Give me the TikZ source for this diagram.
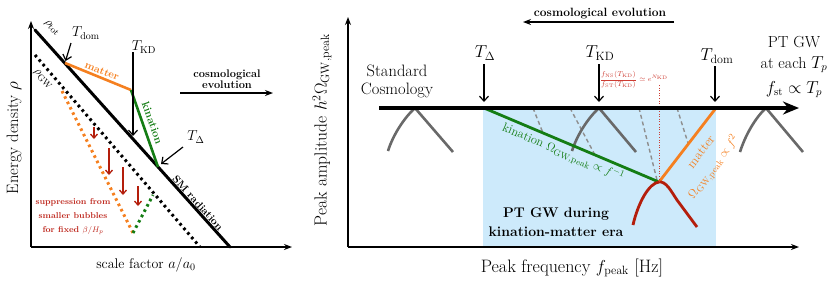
\documentclass[tikz,border=0pt]{standalone}
\usepackage{amsmath}
\usetikzlibrary{arrows.meta}
\definecolor{myorange}{RGB}{245,128,32}
\definecolor{mygreen}{RGB}{20,125,20}
\definecolor{myred}{RGB}{180,30,12}
\definecolor{mygray}{RGB}{105,105,105}
\definecolor{myblue}{RGB}{205,234,251}
\definecolor{textred}{RGB}{205,60,50}
\definecolor{supred}{RGB}{190,40,30}
\newcommand{\fs}[1]{\fontsize{#1}{#1}\selectfont}
\begin{document}
\begin{tikzpicture}[x=1pt,y=-1pt,
  axisline/.style={line width=1.3pt,-{Stealth[length=8pt,width=6pt]}},
  tarrow/.style={line width=1.2pt,-{Straight Barb[length=5pt,width=9pt]}},
  hump/.style={line width=2.6pt,mygray},
  lbl/.style={inner sep=0pt},
  dotline/.style={line width=3pt,dash pattern=on 2.6pt off 3.4pt},
  redarrow/.style={line width=1.3pt,myred,-{Straight Barb[length=4pt,width=7pt]}},
  gdash/.style={line width=1.4pt,mygray!75,dash pattern=on 4pt off 3pt}]
\useasboundingbox (0,0) rectangle (831,282);

% ================= LEFT PANEL =================
\coordinate (LO) at (31,247);
\coordinate (LYT) at (31,21);
\coordinate (LXR) at (292,247);
\coordinate (RtA) at (35,30);
\coordinate (RtB) at (230,247);
\coordinate (Pdom) at (65,63);
\coordinate (Pkd) at (131,90);
\coordinate (Pdel) at (158,167);
\coordinate (GwA) at (35,55);
\coordinate (GwB) at (200,247);
\coordinate (OdA) at (62,91);
\coordinate (OdB) at (133,233);
\coordinate (GdB) at (153,195);

\draw[dotline,black] (GwA) -- (GwB);
\draw[dotline,myorange] (OdA) -- (OdB);
\draw[dotline,mygreen] (OdB) -- (GdB);
\draw[line width=3pt,line cap=round] (RtA) -- (RtB);
\draw[line width=2.6pt,myorange] (Pdom) -- (Pkd);
\draw[line width=2.6pt,mygreen] (Pkd) -- (Pdel);
\draw[axisline] (LO) -- (LYT);
\draw[axisline] (LO) -- (LXR);

% red arrows
\coordinate (ra1) at (94,127); \coordinate (rb1) at (94,139);
\coordinate (ra2) at (109,148); \coordinate (rb2) at (109,175);
\coordinate (ra3) at (123,167); \coordinate (rb3) at (123,195);
\coordinate (ra4) at (138,186); \coordinate (rb4) at (138,206);
\draw[redarrow] (ra1) -- (rb1);
\draw[redarrow] (ra2) -- (rb2);
\draw[redarrow] (ra3) -- (rb3);
\draw[redarrow] (ra4) -- (rb4);

% labels
\node[lbl] (tdomL) at (86,33) {\fs{14}$T_{\mathrm{dom}}$};
\coordinate (tdomLa) at (71,43);
\coordinate (tdomLb) at (65.5,61);
\draw[tarrow] (tdomLa) -- (tdomLb);
\node[lbl] (tkdL) at (144,47) {\fs{14}$T_{\mathrm{KD}}$};
\coordinate (tkdLa) at (133,52);
\coordinate (tkdLb) at (133,136);
\draw[tarrow] (tkdLa) -- (tkdLb);
\node[lbl] (tdelL) at (196,137) {\fs{14}$T_{\Delta}$};
\coordinate (tdelLa) at (183,147);
\coordinate (tdelLb) at (161,164);
\draw[tarrow] (tdelLa) -- (tdelLb);

\node[lbl,rotate=-48] (rhotot) at (52,28) {\fs{13}$\rho_{\mathrm{tot}}$};
\node[lbl,rotate=-48] (rhogw) at (43,79) {\fs{13}$\rho_{\mathrm{GW}}$};
\node[lbl,rotate=-22,text=myorange] (matL) at (102,71) {\fs{10.5}\bfseries matter};
\node[lbl,rotate=-70.7,text=mygreen] (kinL) at (152.5,123) {\fs{11}\bfseries kination};
\node[lbl,rotate=-48] (smrad) at (198,203) {\fs{10.5}\bfseries SM radiation};

\node[lbl,align=center] (cosL) at (227,79) {\fs{11}\bfseries cosmological\\[-1pt]\fs{11}\bfseries evolution};
\coordinate (cosLa) at (180,93);
\coordinate (cosLb) at (273,93);
\draw[line width=1.3pt,-{Stealth[length=8pt,width=6pt]}] (cosLa) -- (cosLb);

\node[lbl,align=center,text=supred] (supp) at (73,216.5) {\fs{8.5}\bfseries suppression from\\[2.5pt]\fs{8.5}\bfseries smaller bubbles\\[1.5pt]\fs{8.5}\bfseries for fixed \mdseries$\beta/H_p$};

\node[lbl,rotate=90] (ylabL) at (14,138) {\fs{16.5}Energy density $\rho$};
\node[lbl] (xlabL) at (146,265) {\fs{14}scale factor $a/a_0$};

% ================= RIGHT PANEL =================
\coordinate (RO) at (348,247);
\coordinate (RYT) at (348,17);
\coordinate (RXR) at (799,247);
\coordinate (BlA) at (483,108);
\coordinate (BlB) at (716,247);
\fill[myblue] (BlA) rectangle (BlB);

% dashed lines
\coordinate (d1a) at (533,108); \coordinate (d1b) at (543,133);
\coordinate (d2a) at (570,108); \coordinate (d2b) at (595,155);
\coordinate (d3a) at (639,108); \coordinate (d3b) at (657,180);
\coordinate (d4a) at (677,108); \coordinate (d4b) at (688,143);
\draw[gdash] (d1a) -- (d1b);
\draw[gdash] (d2a) -- (d2b);
\draw[gdash] (d3a) -- (d3b);
\draw[gdash] (d4a) -- (d4b);

% humps
\coordinate (h1p) at (415,108); \coordinate (h1l) at (388,151); \coordinate (h1r) at (453,152);
\coordinate (h2p) at (599,108); \coordinate (h2l) at (572,151); \coordinate (h2r) at (636,152);
\coordinate (h3p) at (766,108); \coordinate (h3l) at (740,152); \coordinate (h3r) at (803,152);
\draw[hump] (h1l) .. controls +(5,-16) and +(-11,10) .. (h1p) -- (h1r);
\draw[hump] (h2l) .. controls +(5,-16) and +(-11,10) .. (h2p) -- (h2r);
\draw[hump] (h3l) .. controls +(5,-16) and +(-11,10) .. (h3p) -- (h3r);

% green / orange
\coordinate (gA) at (484,108);
\coordinate (J) at (659,182);
\coordinate (oB) at (716,108);
\draw[line width=2.8pt,mygreen] (gA) -- (J);
\draw[line width=2.8pt,myorange] (J) -- (oB);

% red hump
\coordinate (rl) at (633,225);
\coordinate (rm) at (677,200);
\coordinate (rr) at (697,227);
\draw[line width=2.8pt,myred] (rl) .. controls (638,203) and (649,183) .. (J) .. controls (666,181) and (671,191) .. (rm) -- (rr);

% red dotted vertical
\coordinate (rdt) at (659,85);
\draw[textred,line width=0.6pt,dotted] (rdt) -- (J);

% main arrow
\coordinate (mA) at (379,108);
\coordinate (mB) at (799,108);
\draw[line width=3.4pt,-{Stealth[length=16pt,width=13pt]}] (mA) -- (mB);

% axes
\draw[axisline] (RO) -- (RYT);
\draw[axisline] (RO) -- (RXR);

% T labels
\node[lbl] (tdelR) at (485,53) {\fs{17}$T_{\Delta}$};
\coordinate (tdelRa) at (484,64); \coordinate (tdelRb) at (484,102);
\draw[tarrow] (tdelRa) -- (tdelRb);
\node[lbl] (tkdR) at (600,53) {\fs{17}$T_{\mathrm{KD}}$};
\coordinate (tkdRa) at (599,64); \coordinate (tkdRb) at (599,102);
\draw[tarrow] (tkdRa) -- (tkdRb);
\node[lbl] (tdomR) at (717,56) {\fs{17}$T_{\mathrm{dom}}$};
\coordinate (tdomRa) at (715,66); \coordinate (tdomRb) at (715,102);
\draw[tarrow] (tdomRa) -- (tdomRb);

\node[lbl,text=textred] (ratio) at (634,80) {\fs{7}$\displaystyle\frac{f_{\mathrm{NS}}(T_{\mathrm{KD}})}{f_{\mathrm{ST}}(T_{\mathrm{KD}})}\simeq e^{N_{\mathrm{KD}}}$};

\node[lbl,align=center] (stdc) at (397,81) {\fs{16.5}Standard\\[6pt]\fs{16.5}Cosmology};
\node[lbl,align=center] (ptgw) at (794,67) {\fs{16}PT GW\\[8pt]\fs{16}at each $T_p$\\[7pt]\fs{16}$f_{\mathrm{st}}\propto T_p$};

\node[lbl] (cosR) at (600,14) {\fs{12}\bfseries cosmological evolution};
\coordinate (cosRa) at (674,22); \coordinate (cosRb) at (523,22);
\draw[line width=1.4pt,-{Stealth[length=8pt,width=6pt]}] (cosRa) -- (cosRb);

\node[lbl,rotate=-23,text=mygreen] (kinR) at (563,153) {\fs{12.5}kination $\Omega_{\mathrm{GW,peak}}\propto f^{-1}$};
\node[lbl,rotate=53,text=myorange] (matR) at (701,152) {\fs{13}matter};
\node[lbl,rotate=53,text=myorange] (omR) at (714,167) {\fs{13}$\Omega_{\mathrm{GW,peak}}\propto f^{2}$};

\node[lbl,align=center] (ptdur) at (556,222) {\fs{14}\bfseries PT GW during\\[5pt]\fs{14}\bfseries kination-matter era};

\node[lbl,rotate=90] (ylabR) at (322,130) {\fs{17.5}Peak amplitude $h^2\Omega_{\mathrm{GW,peak}}$};
\node[lbl] (xlabR) at (572,268) {\fs{18}Peak frequency $f_{\mathrm{peak}}$ [Hz]};
\end{tikzpicture}
\end{document}
